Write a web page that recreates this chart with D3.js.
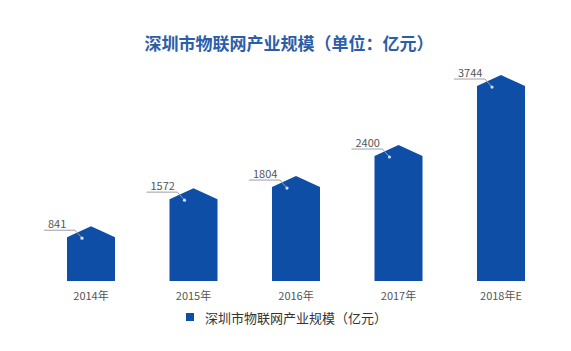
<!DOCTYPE html>
<html lang="zh">
<head>
    <meta charset="UTF-8">
    <title>深圳市物联网产业规模</title>
    <script src="https://cdn.jsdelivr.net/npm/d3@7"></script>
    <style>
        body { margin: 0; background: #fff; }
        text { font-family: "Noto Sans CJK SC", "Noto Sans", sans-serif; }
    </style>
</head>
<body>
<script>
    var years = ["2014年", "2015年", "2016年", "2017年", "2018年E"];
    var values = [841, 1572, 1804, 2400, 3744];
    var title = "深圳市物联网产业规模（单位：亿元）";
    var legendLabel = "深圳市物联网产业规模（亿元）";

    var width = 571, height = 351;
    var barColor = "#0f4ea6";
    var barWidth = 48;
    var roof = 11;

    var svg = d3.select("body").append("svg")
        .attr("width", width)
        .attr("height", height);

    var x = d3.scalePoint()
        .domain(years)
        .range([91, 501]);

    var y = d3.scaleLinear()
        .domain([0, 4000])
        .range([281, 72.7]);

    // title
    svg.append("text")
        .attr("x", 289)
        .attr("y", 50)
        .attr("text-anchor", "middle")
        .attr("font-size", "17px")
        .attr("font-weight", "bold")
        .attr("fill", "#2b5ea9")
        .text(title);

    var bars = svg.append("g");
    years.forEach(function (yr, i) {
        var cx = x(yr);
        var top = y(values[i]);
        var base = y(0);
        var path = d3.path();
        path.moveTo(cx - barWidth / 2, base);
        path.lineTo(cx - barWidth / 2, top);
        path.lineTo(cx, top - roof);
        path.lineTo(cx + barWidth / 2, top);
        path.lineTo(cx + barWidth / 2, base);
        path.closePath();
        bars.append("path")
            .attr("d", path.toString())
            .attr("fill", barColor);

        // leader line + value label
        bars.append("path")
            .attr("d", "M" + (cx - 47) + "," + (top - 7) + "H" + (cx - 16) + "L" + (cx - 9) + "," + (top + 1))
            .attr("fill", "none")
            .attr("stroke", "#9aa0a8")
            .attr("stroke-width", 1);
        bars.append("circle")
            .attr("cx", cx - 9)
            .attr("cy", top + 1)
            .attr("r", 1.6)
            .attr("fill", "#cfe0f5");
        bars.append("text")
            .attr("x", cx - 43)
            .attr("y", top - 9.5)
            .attr("font-size", "11px")
            .attr("fill", "#555")
            .text(values[i]);

        // x label
        bars.append("text")
            .attr("x", cx)
            .attr("y", 300)
            .attr("text-anchor", "middle")
            .attr("font-size", "11px")
            .attr("fill", "#555")
            .text(yr);
    });

    // legend
    svg.append("rect")
        .attr("x", 186)
        .attr("y", 313)
        .attr("width", 8)
        .attr("height", 8)
        .attr("fill", barColor);
    svg.append("text")
        .attr("x", 205)
        .attr("y", 322.5)
        .attr("font-size", "13px")
        .attr("fill", "#333")
        .text(legendLabel);
</script>
</body>
</html>
